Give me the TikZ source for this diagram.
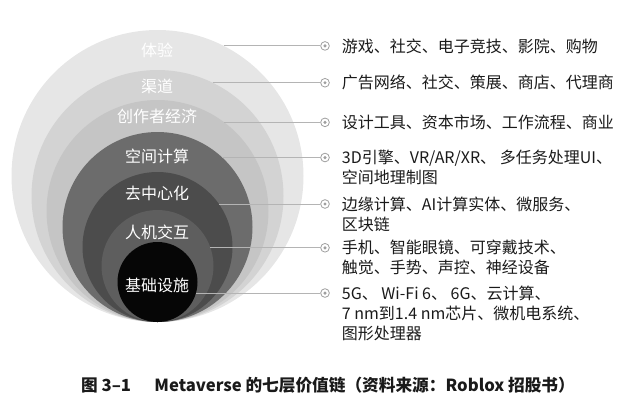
\documentclass[tikz,border=0pt]{standalone}
\usepackage{fontspec}
\setmainfont{Noto Sans CJK SC}
\usepackage{xcolor}
\usepackage{tikz}
\usetikzlibrary{positioning,calc}
\definecolor{lay1}{HTML}{E6E6E6}
\definecolor{lay2}{HTML}{D3D3D3}
\definecolor{lay3}{HTML}{C5C5C5}
\definecolor{lay4}{HTML}{6C6C6C}
\definecolor{lay5}{HTML}{4C4C4C}
\definecolor{lay6}{HTML}{5E5E5E}
\definecolor{lay7}{HTML}{060606}
\definecolor{leadc}{HTML}{B4B4B4}
\definecolor{ink}{HTML}{1A1A1A}
\tikzset{
  ring/.style={circle, draw=none, inner sep=0pt, outer sep=0pt},
  layer/.style={font=\fontsize{12}{15}\selectfont, text=white, inner sep=0pt},
  lead/.style={draw=leadc, line width=0.7pt},
  knob/.style={circle, draw=gray!75, fill=white, line width=0.6pt, minimum size=6.5pt, inner sep=0pt,
    path picture={\fill[gray!75] (path picture bounding box.center) circle (1.3pt);}},
  item/.style={font=\fontsize{12}{15}\selectfont, text=ink, align=left, inner sep=0pt, anchor=north west}
}

\begin{document}
\begin{tikzpicture}[x=0.75pt, y=-0.75pt]
\useasboundingbox (0,0) rectangle (640,405);
\node[ring, fill=lay1, minimum size=219pt] (c1) at (157.5,176) {};
\node[ring, fill=lay2, minimum size=189pt] (c2) at (157.5,196) {};
\node[ring, fill=lay3, minimum size=166.5pt] (c3) at (157.5,211) {};
\node[ring, fill=lay4, minimum size=142.5pt] (c4) at (157.5,227) {};
\node[ring, fill=lay5, minimum size=112.5pt] (c5) at (157.5,247) {};
\node[ring, fill=lay6, minimum size=84pt] (c6) at (157.5,266) {};
\node[ring, fill=lay7, minimum size=60pt] (c7) at (157.5,282) {};
\node[layer] (l1) at (157,50) {体验};
\node[layer] (l2) at (157,86) {渠道};
\node[layer] (l3) at (157,116) {创作者经济};
\node[layer] (l4) at (157,156) {空间计算};
\node[layer] (l5) at (157,193) {去中心化};
\node[layer] (l6) at (157,232) {人机交互};
\node[layer] (l7) at (157,285) {基础设施};
\coordinate (col) at (325,0);
\node[knob] (m1) at (c1.63.8 -| col) {};
\node[knob] (m2) at (c2.64.8 -| col) {};
\node[knob] (m3) at (c3.53.3 -| col) {};
\node[knob] (m4) at (c4.47.5 -| col) {};
\node[knob] (m5) at (c5.35.9 -| col) {};
\node[knob] (m6) at (c6.19.8 -| col) {};
\node[knob] (m7) at (c7.-16 -| col) {};
\draw[lead] (c1.63.8) -- (m1);
\draw[lead] (c2.64.8) -- (m2);
\draw[lead] (c3.53.3) -- (m3);
\draw[lead] (c4.47.5) -- (m4);
\draw[lead] (c5.35.9) -- (m5);
\draw[lead] (c6.19.8) -- (m6);
\draw[lead] (c7.-16) -- (m7);
\node[item] (t1) at ([xshift=12.5pt, yshift=5.8pt]m1.center) {游戏、社交、电子竞技、影院、购物};
\node[item] (t2) at ([xshift=12.5pt, yshift=5.8pt]m2.center) {广告网络、社交、策展、商店、代理商};
\node[item] (t3) at ([xshift=12.5pt, yshift=5.8pt]m3.center) {设计工具、资本市场、工作流程、商业};
\node[item] (t4) at ([xshift=12.5pt, yshift=5.8pt]m4.center) {3D引擎、VR/AR/XR、 多任务处理UI、\\空间地理制图};
\node[item] (t5) at ([xshift=12.5pt, yshift=5.8pt]m5.center) {边缘计算、AI计算实体、微服务、\\区块链};
\node[item] (t6) at ([xshift=12.5pt, yshift=5.8pt]m6.center) {手机、智能眼镜、可穿戴技术、\\触觉、手势、声控、神经设备};
\node[item] (t7) at ([xshift=12.5pt, yshift=5.8pt]m7.center) {5G、 Wi-Fi 6、 6G、云计算、\\7 nm到1.4 nm芯片、微机电系统、\\图形处理器};
\node[font=\fontsize{12.5}{14}\selectfont\bfseries, text=ink] (cap) at (328,385) {图 3–1\hspace{1.4em}Metaverse 的七层价值链（资料来源：Roblox 招股书）};
\end{tikzpicture}
\end{document}
